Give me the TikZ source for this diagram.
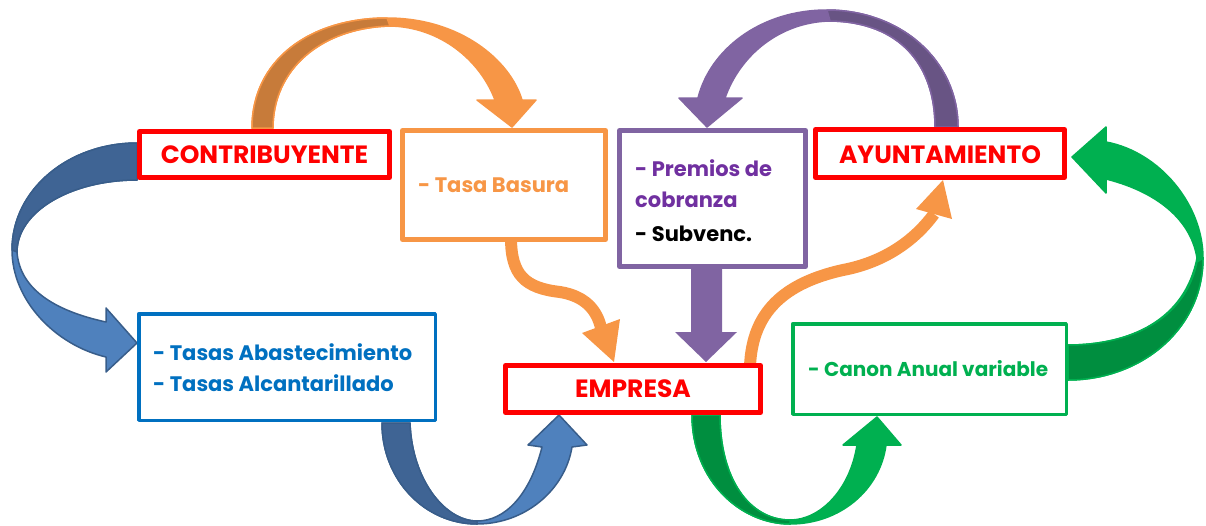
\documentclass[tikz,border=0pt]{standalone}
\usepackage{fontspec}
\setmainfont{Poppins}
\definecolor{cred}{HTML}{FF0000}
\definecolor{corange}{HTML}{F79646}
\definecolor{corangeD}{RGB}{199,123,58}
\definecolor{cblueL}{HTML}{4F81BD}
\definecolor{cblueD}{HTML}{3F6494}
\definecolor{cblueO}{HTML}{385D8A}
\definecolor{cpurple}{HTML}{8064A2}
\definecolor{cpurpleD}{HTML}{685484}
\definecolor{cgreen}{HTML}{00B050}
\definecolor{cgreenD}{HTML}{008E3F}
\definecolor{tpurple}{HTML}{7030A0}
\definecolor{tblue}{HTML}{0070C0}
\tikzset{
  box/.style={draw, fill=white, rectangle, inner sep=0pt, line join=round},
  thickbox/.style={box, line width=5pt},
  thinbox/.style={box, line width=3.5pt},
  lbl/.style={font=\bfseries\fontsize{21}{32}\selectfont, inner sep=0pt},
  caplbl/.style={font=\bfseries\fontsize{25}{32}\selectfont, inner sep=0pt, text=cred},
  ribbon/.style={line width=1.5pt, line join=round},
  thinarrow/.style={draw=corange, line width=12pt}
}
\begin{document}
\begin{tikzpicture}[x=1pt,y=-1pt]
\useasboundingbox (0,0) rectangle (1206,525);

% ---- blue left ribbon: CONTRIBUYENTE -> Tasas
\filldraw[ribbon, fill=cblueL, draw=cblueO]
  (137,143) .. controls (68,143) and (12,190) .. (12,250)
  .. controls (12,300) and (55,345) .. (106,357)
  -- (106,372) -- (137,343) -- (106,308) -- (106,322)
  .. controls (60,312) and (20,292) .. (17,252)
  .. controls (17,212) and (70,180) .. (137,180) -- cycle;
\filldraw[ribbon, fill=cblueD, draw=cblueO]
  (137,143) .. controls (68,143) and (12,190) .. (12,250)
  -- (17,252) .. controls (17,212) and (70,180) .. (137,180) -- cycle;

% ---- blue bottom ribbon: Tasas -> EMPRESA
\filldraw[ribbon, fill=cblueL, draw=cblueO]
  (382,423) .. controls (382,480) and (425,524) .. (477,524)
  .. controls (525,524) and (565,490) .. (572,447)
  -- (587,445) -- (559,415) -- (528,445) -- (542,447)
  .. controls (530,495) and (505,521) .. (477,521)
  .. controls (445,521) and (412,480) .. (410,423) -- cycle;
\filldraw[ribbon, fill=cblueD, draw=cblueO]
  (382,423) .. controls (382,480) and (425,524) .. (477,524)
  -- (477,521) .. controls (445,521) and (412,480) .. (410,423) -- cycle;

% ---- orange top ribbon: CONTRIBUYENTE -> Tasa Basura
\filldraw[ribbon, fill=corange, draw=corange]
  (252,128) .. controls (252,60) and (310,18) .. (387,18)
  .. controls (460,18) and (510,60) .. (522,100)
  -- (536,100) -- (512,127) -- (477,100) -- (495,100)
  .. controls (480,60) and (440,27) .. (390,26)
  .. controls (320,28) and (273,70) .. (273,128) -- cycle;
\filldraw[ribbon, fill=corangeD, draw=corange]
  (252,128) .. controls (252,60) and (310,18) .. (387,18)
  -- (390,26) .. controls (320,28) and (273,70) .. (273,128) -- cycle;

% ---- purple top ribbon: AYUNTAMIENTO -> Premios
\filldraw[ribbon, fill=cpurple, draw=cpurple]
  (958,127) .. controls (958,60) and (900,10) .. (827,10)
  .. controls (760,10) and (710,50) .. (698,98)
  -- (679,98) -- (707,127) -- (742,98) -- (725,98)
  .. controls (740,55) and (780,22) .. (830,21)
  .. controls (900,22) and (935,65) .. (935,127) -- cycle;
\filldraw[ribbon, fill=cpurpleD, draw=cpurple]
  (958,127) .. controls (958,60) and (900,10) .. (827,10)
  -- (830,21) .. controls (900,22) and (935,65) .. (935,127) -- cycle;

% ---- purple straight arrow: Premios -> EMPRESA
\fill[cpurple] (691,265) -- (722,265) -- (722,332) -- (737,332) -- (706,362)
  -- (675,332) -- (691,332) -- cycle;

% ---- green bottom ribbon: EMPRESA -> Canon
\filldraw[ribbon, fill=cgreen, draw=cgreen]
  (692,415) .. controls (692,480) and (740,524) .. (790,524)
  .. controls (840,524) and (880,490) .. (886,445)
  -- (901,445) -- (877,417) -- (843,445) -- (857,445)
  .. controls (850,490) and (820,520) .. (790,520)
  .. controls (750,520) and (720,480) .. (720,415) -- cycle;
\filldraw[ribbon, fill=cgreenD, draw=cgreen]
  (692,415) .. controls (692,480) and (740,524) .. (790,524)
  -- (790,520) .. controls (750,520) and (720,480) .. (720,415) -- cycle;

% ---- green right ribbon: Canon -> AYUNTAMIENTO
\filldraw[ribbon, fill=cgreen, draw=cgreen]
  (1068,380) .. controls (1140,380) and (1203,330) .. (1203,258)
  .. controls (1203,205) and (1160,152) .. (1106,142)
  -- (1106,127) -- (1072,157) -- (1106,193) -- (1106,179)
  .. controls (1150,190) and (1190,215) .. (1197,258)
  .. controls (1185,320) and (1130,345) .. (1068,345) -- cycle;
\filldraw[ribbon, fill=cgreenD, draw=cgreen]
  (1068,380) .. controls (1140,380) and (1203,330) .. (1203,258)
  -- (1197,262) .. controls (1185,320) and (1130,345) .. (1068,345) -- cycle;

% ---- orange thin arrows
\draw[thinarrow] (511,238) .. controls (511,275) and (525,288) .. (560,292)
  .. controls (585,296) and (597,310) .. (601,328);
\fill[corange] (582,333) -- (620,319) -- (614,362) -- cycle;
\draw[thinarrow] (750,366) .. controls (752,320) and (775,285) .. (843,270)
  .. controls (885,262) and (915,240) .. (934,214);
\fill[corange] (916,209) -- (952,219) -- (943,180) -- cycle;

% ---- boxes
\node[thickbox, draw=cred, minimum width=250pt, minimum height=46pt] (contrib) at (264.5,154.5) {};
\node[thickbox, draw=corange, minimum width=203pt, minimum height=109pt] (basura) at (504,185) {};
\node[thickbox, draw=cpurple, minimum width=186pt, minimum height=136pt] (premios) at (712.5,198.5) {};
\node[thickbox, draw=cred, minimum width=249pt, minimum height=48pt] (ayunt) at (940,153.5) {};
\node[thinbox, draw=tblue, minimum width=296.5pt, minimum height=106.5pt] (tasas) at (287,367) {};
\node[thickbox, draw=cred, minimum width=255pt, minimum height=47pt] (empresa) at (633,389) {};
\node[thinbox, draw=cgreen, minimum width=273.5pt, minimum height=90.5pt] (canon) at (929.5,369) {};

% ---- texts
\node[caplbl] (contribT) at (264.5,155) {CONTRIBUYENTE};
\node[caplbl] (ayuntT) at (940,155) {AYUNTAMIENTO};
\node[caplbl] (empresaT) at (633,389) {EMPRESA};
\node[lbl, text=corange, anchor=west] (basuraT) at (418,185) {- Tasa Basura};
\node[lbl, text=tpurple, anchor=west] (premiosT1) at (635,168) {- Premios de};
\node[lbl, text=tpurple, anchor=west] (premiosT2) at (635,200) {cobranza};
\node[lbl, text=black, anchor=west] (premiosT3) at (635,234) {- Subvenc.};
\node[lbl, text=tblue, anchor=west] (tasasT1) at (153,352) {- Tasas Abastecimiento};
\node[lbl, text=tblue, anchor=west] (tasasT2) at (153,383) {- Tasas Alcantarillado};
\node[lbl, font=\bfseries\fontsize{20}{32}\selectfont, text=cgreen, anchor=west] (canonT) at (808,369) {- Canon Anual variable};
\end{tikzpicture}
\end{document}
